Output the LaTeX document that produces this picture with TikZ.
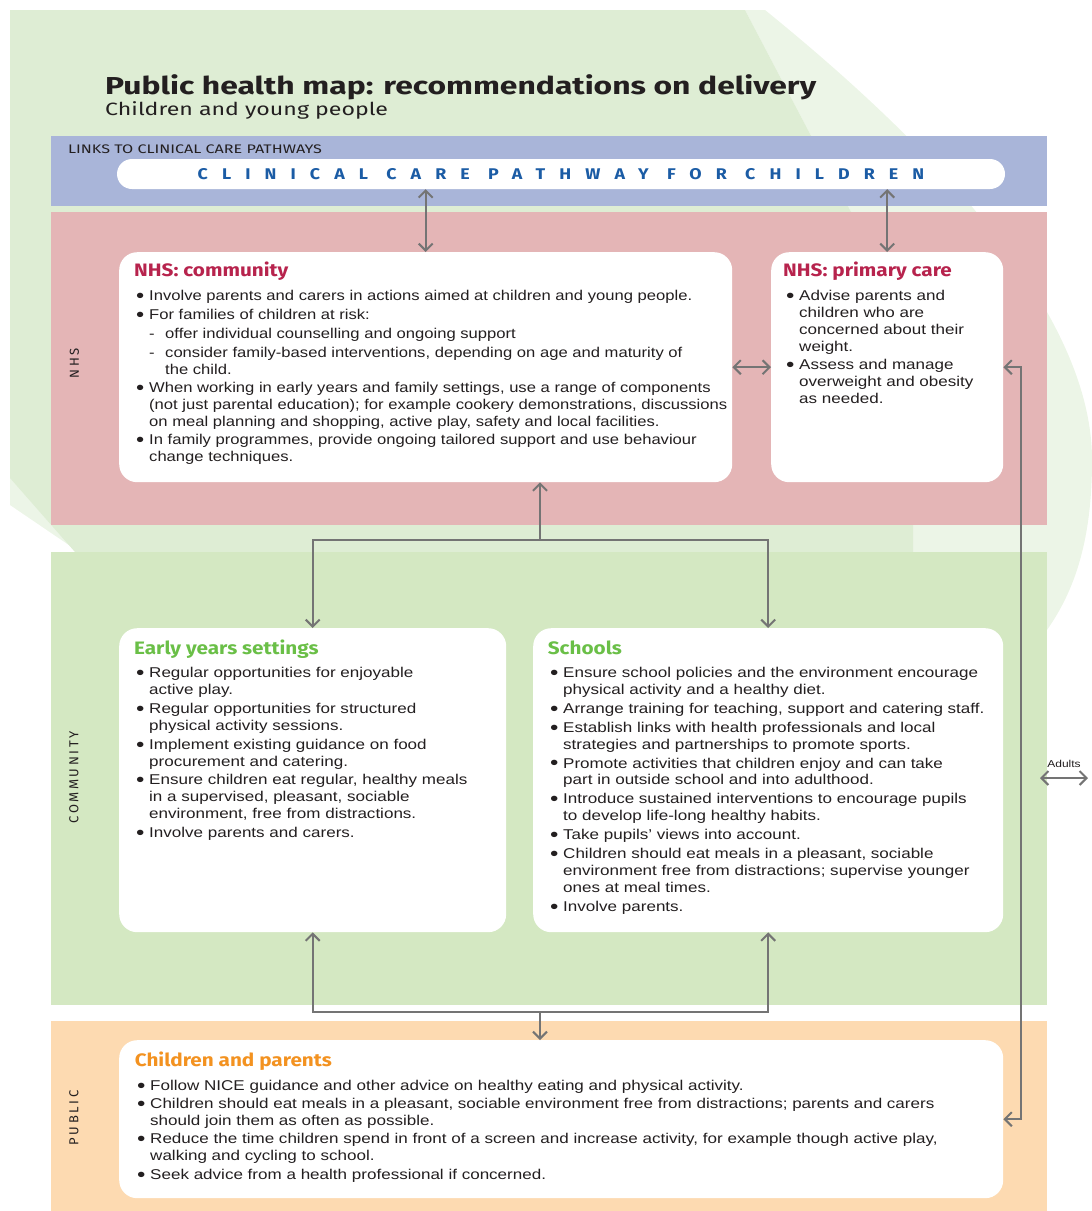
\documentclass[tikz,border=0pt]{standalone}
\usepackage{graphicx}
\usepackage{fontspec}
\setmainfont[FakeStretch=1.2]{Liberation Sans}
\newfontfamily\narrowbody[FakeStretch=1.17]{Liberation Sans}
\newfontfamily\headfont[FakeStretch=1.15]{Fira Sans}
\newfontfamily\titlefont[FakeStretch=1.3]{Fira Sans}
\newfontfamily\pathfont[FakeStretch=1.15,LetterSpace=91]{Fira Sans}
\newfontfamily\sidefont[LetterSpace=20]{Fira Sans}
\usetikzlibrary{arrows.meta}

\definecolor{bgverde}{HTML}{DEEDD4}
\definecolor{bgchiaro}{HTML}{ECF5E7}
\definecolor{fasciablu}{HTML}{A9B5D9}
\definecolor{fasciarosa}{HTML}{E4B5B6}
\definecolor{fasciaverde}{HTML}{D4E8C2}
\definecolor{fasciaarancio}{HTML}{FDDAB1}
\definecolor{testoblu}{HTML}{1B5CA5}
\definecolor{rossonhs}{HTML}{B7234D}
\definecolor{verdetit}{HTML}{6ABF47}
\definecolor{arancio}{HTML}{F39220}
\definecolor{grigio}{HTML}{747474}
\definecolor{nero}{HTML}{231F20}

\newcommand{\bul}{\makebox[13pt][l]{\raisebox{-1.9pt}{\scalebox{1.4}{\textbullet}}}}
\newcommand{\ind}{\hspace*{13pt}}
\newcommand{\dsh}{\hspace*{13pt}\makebox[16pt][l]{-}}

\begin{document}
\begin{tikzpicture}[x=1pt, y=-1pt,
    >={Straight Barb[length=7pt,width=14pt]},
    fascia/.style={fill=#1, inner sep=0pt, minimum width=996pt, anchor=north west},
    riquadro/.style={fill=white, rounded corners=18pt, inner sep=0pt, anchor=north west},
    titolo/.style={text=#1, anchor=base west, inner sep=0pt, font=\headfont\bfseries\fontsize{18}{20}\selectfont},
    testo/.style={anchor=north west, inner sep=0pt, align=left, text=nero, font=\fontsize{14.2}{16.9}\selectfont},
    lato/.style={rotate=90, inner sep=0pt, text=nero, font=\sidefont\fontsize{13}{13}\selectfont},
    link/.style={draw=grigio, line width=2pt}]

    \useasboundingbox (0,0) rectangle (1092,1211);

    % Sfondo
    \fill[bgchiaro] (745,10) -- (765,10) .. controls (950,160) and (1092,320) .. (1092,460)
        .. controls (1092,540) and (1075,590) .. (1047,630) -- (913,630) -- (913,330) -- cycle;
    \fill[bgchiaro] (10,470) -- (10,505) -- (85,556) -- (100,556) -- cycle;
    \fill[bgverde] (10,10) -- (745,10) -- (913,330) -- (913,560) -- (82,560) -- (10,478) -- cycle;

    % Fasce
    \node[fascia=fasciablu, minimum height=70pt] (links) at (51,136) {};
    \node[fascia=fasciarosa, minimum height=313pt] (nhs) at (51,212) {};
    \node[fascia=fasciaverde, minimum height=453pt] (community) at (51,552) {};
    \node[fascia=fasciaarancio, minimum height=190pt] (public) at (51,1021) {};

    % Titoli
    \node[anchor=base west, inner sep=0pt, text=nero, font=\titlefont\bfseries\fontsize{24.5}{26}\selectfont] (title) at (105,94.5) {Public health map: recommendations on delivery};
    \node[anchor=base west, inner sep=0pt, text=nero, font=\titlefont\fontsize{17.8}{19}\selectfont] (subtitle) at (105,115) {Children and young people};
    \node[anchor=base west, inner sep=0pt, text=nero, font=\titlefont\fontsize{12.4}{13}\selectfont] (linkslabel) at (68,153.3) {LINKS TO CLINICAL CARE PATHWAYS};
    \node[fill=white, rounded corners=15pt, minimum width=888pt, minimum height=30pt, inner sep=0pt, text=testoblu,
        font=\pathfont\bfseries\fontsize{15.5}{16}\selectfont] (pathway) at (561,174) {CLINICAL CARE PATHWAY FOR CHILDREN};

    \node[lato] (nhslabel) at (74.5,363) {NHS};
    \node[lato] (communitylabel) at (74,777.5) {COMMUNITY};
    \node[lato] (publiclabel) at (74,1118) {PUBLIC};

    % Riquadri
    \node[riquadro, minimum width=613pt, minimum height=230pt] (nhscom) at (119,252) {};
    \node[riquadro, minimum width=232pt, minimum height=230pt] (primary) at (771,252) {};
    \node[riquadro, minimum width=387pt, minimum height=304pt] (early) at (119,628) {};
    \node[riquadro, minimum width=470pt, minimum height=304pt] (schools) at (533,628) {};
    \node[riquadro, minimum width=884pt, minimum height=158pt] (parents) at (119,1040) {};

    % Testi
    \node[titolo=rossonhs] (nhscomtitle) at (134,276) {NHS: community};
    \node[testo, font={\narrowbody\fontsize{14.2}{16.9}\selectfont}] (nhscomtext) at (136,290.5) {%
        \bul Involve parents and carers in actions aimed at children and young people.\\[1.5pt]
        \bul For families of children at risk:\\[2pt]
        \dsh offer individual counselling and ongoing support\\[2pt]
        \dsh consider family-based interventions, depending on age and maturity of\\
        \hspace*{29pt}the child.\\[1.5pt]
        \bul When working in early years and family settings, use a range of components\\
        \ind (not just parental education); for example cookery demonstrations, discussions\\
        \ind on meal planning and shopping, active play, safety and local facilities.\\[1.5pt]
        \bul In family programmes, provide ongoing tailored support and use behaviour\\
        \ind change techniques.};

    \node[titolo=rossonhs] (primarytitle) at (783,276) {NHS: primary care};
    \node[testo] (primarytext) at (786,290) {%
        \bul Advise parents and\\
        \ind children who are\\
        \ind concerned about their\\
        \ind weight.\\[1.5pt]
        \bul Assess and manage\\
        \ind overweight and obesity\\
        \ind as needed.};

    \node[titolo=verdetit] (earlytitle) at (134,654.3) {Early years settings};
    \node[testo] (earlytext) at (136,667) {%
        \bul Regular opportunities for enjoyable\\
        \ind active play.\\[2pt]
        \bul Regular opportunities for structured\\
        \ind physical activity sessions.\\[2pt]
        \bul Implement existing guidance on food\\
        \ind procurement and catering.\\[2pt]
        \bul Ensure children eat regular, healthy meals\\
        \ind in a supervised, pleasant, sociable\\
        \ind environment, free from distractions.\\[2pt]
        \bul Involve parents and carers.};

    \node[titolo=verdetit] (schoolstitle) at (547.7,654.3) {Schools};
    \node[testo] (schoolstext) at (550,667) {%
        \bul Ensure school policies and the environment encourage\\
        \ind physical activity and a healthy diet.\\[2pt]
        \bul Arrange training for teaching, support and catering staff.\\[2pt]
        \bul Establish links with health professionals and local\\
        \ind strategies and partnerships to promote sports.\\[2pt]
        \bul Promote activities that children enjoy and can take\\
        \ind part in outside school and into adulthood.\\[2pt]
        \bul Introduce sustained interventions to encourage pupils\\
        \ind to develop life-long healthy habits.\\[2pt]
        \bul Take pupils’ views into account.\\[2pt]
        \bul Children should eat meals in a pleasant, sociable\\
        \ind environment free from distractions; supervise younger\\
        \ind ones at meal times.\\[2pt]
        \bul Involve parents.};

    \node[titolo=arancio] (parentstitle) at (134.6,1066.7) {Children and parents};
    \node[testo] (parentstext) at (137,1079.7) {%
        \bul Follow NICE guidance and other advice on healthy eating and physical activity.\\[1.5pt]
        \bul Children should eat meals in a pleasant, sociable environment free from distractions; parents and carers\\
        \ind should join them as often as possible.\\[1.5pt]
        \bul Reduce the time children spend in front of a screen and increase activity, for example though active play,\\
        \ind walking and cycling to school.\\[1.5pt]
        \bul Seek advice from a health professional if concerned.};

    \node[inner sep=0pt, text=nero, font=\fontsize{10}{10}\selectfont] (adults) at (1064,764) {Adults};

    % Frecce
    \coordinate (snodo) at (540,540);
    \coordinate (inodo) at (540,1012);
    \coordinate (destra) at (1021,0);
    \coordinate (adultsl) at (1040,778);
    \coordinate (adultsr) at (1088,778);

    \draw[link, <->] (pathway.south -| nhscom.north) -- (nhscom.north); % percorso - comunita
    \draw[link, <->] (pathway.south -| primary.north) -- (primary.north); % percorso - cure primarie
    \draw[link, <->] (nhscom.east) -- (primary.west);
    \draw[link, ->] (snodo) -- (nhscom.south -| snodo);
    \draw[link, ->] (snodo) -| (early.north);
    \draw[link, ->] (snodo) -| (schools.north);
    \draw[link, ->] (inodo) -| (early.south);
    \draw[link, ->] (inodo) -| (schools.south);
    \draw[link, ->] (inodo) -- (parents.north -| inodo);
    \draw[link, <->] (primary.east) -- (primary.east -| destra) -- (parents.east -| destra) -- (parents.east); % lato destro
    \draw[link, <->] (adultsl) -- (adultsr);

\end{tikzpicture}
\end{document}
